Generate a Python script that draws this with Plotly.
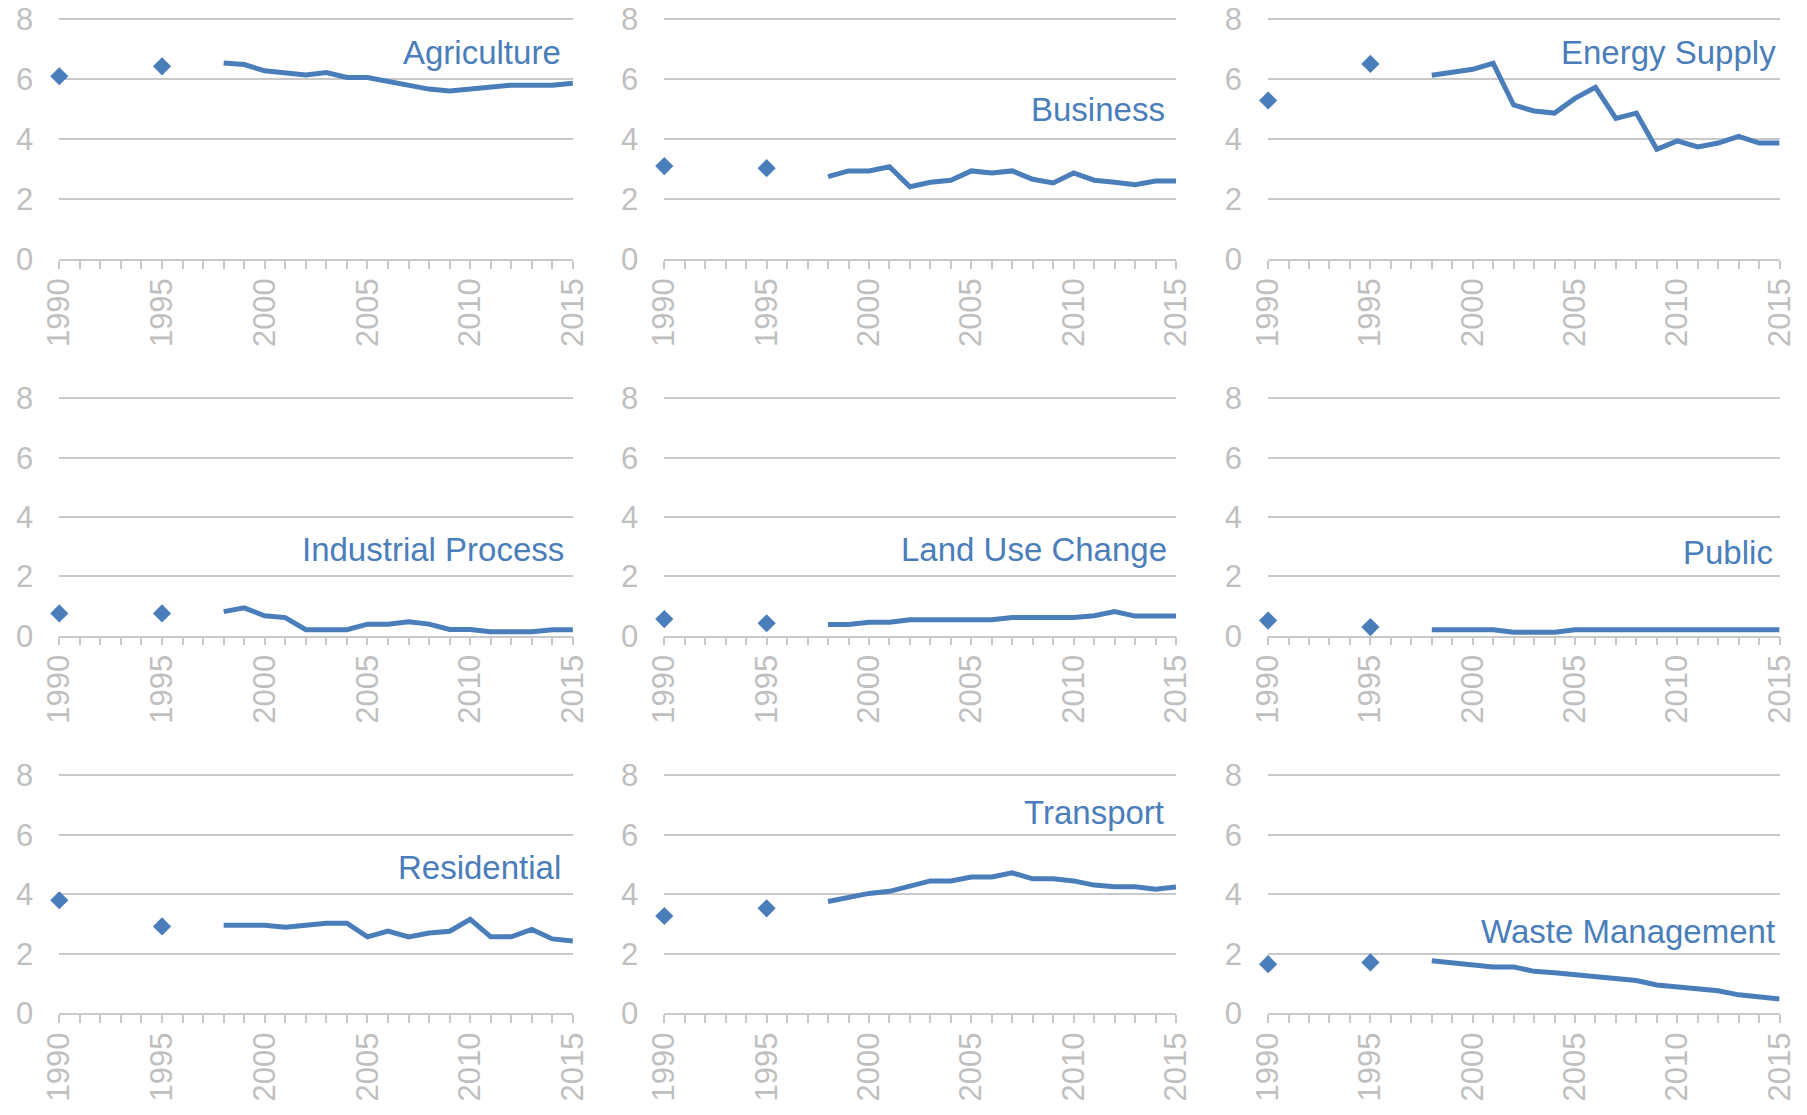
import plotly.graph_objects as go

# ---------------- data ----------------
bench_years = [1990, 1995]
annual_years = list(range(1998, 2016))

sector_names = ["Agriculture", "Business", "Energy Supply",
                "Industrial Process", "Land Use Change", "Public",
                "Residential", "Transport", "Waste Management"]

agriculture_bench = [6.10, 6.43]
agriculture_annual = [6.54, 6.49, 6.28, 6.22, 6.14, 6.22, 6.06, 6.06, 5.94,
                      5.81, 5.67, 5.61, 5.68, 5.74, 5.80, 5.80, 5.80, 5.87]

business_bench = [3.10, 3.03]
business_annual = [2.75, 2.94, 2.94, 3.08, 2.41, 2.56, 2.63, 2.94, 2.87,
                   2.94, 2.66, 2.54, 2.87, 2.63, 2.56, 2.48, 2.60, 2.60]

energy_bench = [5.29, 6.51]
energy_annual = [6.13, 6.21, 6.33, 6.53, 5.14, 4.94, 4.87, 5.36, 5.73,
                 4.69, 4.87, 3.66, 3.94, 3.74, 3.87, 4.09, 3.87, 3.87]

industrial_bench = [0.75, 0.75]
industrial_annual = [0.81, 0.94, 0.67, 0.61, 0.20, 0.20, 0.20, 0.39, 0.39,
                     0.47, 0.39, 0.21, 0.21, 0.13, 0.13, 0.13, 0.20, 0.20]

landuse_bench = [0.56, 0.42]
landuse_annual = [0.38, 0.38, 0.45, 0.45, 0.54, 0.54, 0.54, 0.54, 0.54,
                  0.61, 0.61, 0.61, 0.61, 0.67, 0.81, 0.66, 0.66, 0.66]

public_bench = [0.51, 0.29]
public_annual = [0.20, 0.20, 0.20, 0.20, 0.12, 0.12, 0.12, 0.20, 0.20,
                 0.20, 0.20, 0.20, 0.20, 0.20, 0.20, 0.20, 0.20, 0.20]

residential_bench = [3.80, 2.92]
residential_annual = [2.96, 2.96, 2.96, 2.89, 2.96, 3.03, 3.03, 2.57, 2.76,
                      2.57, 2.70, 2.76, 3.16, 2.57, 2.57, 2.82, 2.50, 2.43]

transport_bench = [3.27, 3.53]
transport_annual = [3.76, 3.90, 4.03, 4.10, 4.26, 4.45, 4.45, 4.58, 4.58,
                    4.72, 4.52, 4.52, 4.45, 4.31, 4.25, 4.25, 4.17, 4.25]

waste_bench = [1.65, 1.71]
waste_annual = [1.77, 1.70, 1.64, 1.56, 1.56, 1.41, 1.36, 1.29, 1.22,
                1.15, 1.10, 0.95, 0.89, 0.82, 0.76, 0.62, 0.55, 0.48]

y_ticks = [0, 2, 4, 6, 8]
x_tick_labels = [1990, 1995, 2000, 2005, 2010, 2015]

# label placement (value on y axis, fraction of x domain for right edge)
label_y = [6.9, 4.98, 6.9, 2.9, 2.9, 2.8, 4.89, 6.76, 2.74]
label_x = [0.981, 0.983, 0.996, 0.987, 0.987, 0.991, 0.98, 0.981, 0.995]

bench_all = [agriculture_bench, business_bench, energy_bench,
             industrial_bench, landuse_bench, public_bench,
             residential_bench, transport_bench, waste_bench]
annual_all = [agriculture_annual, business_annual, energy_annual,
              industrial_annual, landuse_annual, public_annual,
              residential_annual, transport_annual, waste_annual]

# ---------------- styling ----------------
W, H = 1807, 1115
BLUE = "#4A7EBB"
GRID = "#C9C9C9"
TICKC = "#BFBFBF"
FONT = "Liberation Sans, Arial, sans-serif"
YMAX = 8.06  # slightly above 8 so the top gridline is drawn

# pixel positions in the screenshot (x of 1990 / 2015, y of 8 / 0)
col_px = [(59.3, 572.9), (664.3, 1176.0), (1268.1, 1779.6)]
row_px = [(19.3, 259.0), (398.3, 635.7), (775.3, 1013.3)]

fig = go.Figure()
layout = dict(
    width=W, height=H,
    margin=dict(l=0, r=0, t=0, b=0, autoexpand=False),
    paper_bgcolor="white", plot_bgcolor="white",
    showlegend=False,
    font=dict(family=FONT, color=TICKC, size=30),
)
annotations = []

for i, name in enumerate(sector_names):
    r, c = divmod(i, 3)
    n = i + 1
    sfx = "" if n == 1 else str(n)
    xa, ya = "x" + sfx, "y" + sfx
    x0, x1 = col_px[c]
    y8, y0 = row_px[r]
    ytop = y0 - (y0 - y8) * YMAX / 8.0

    fig.add_trace(go.Scatter(
        x=annual_years, y=annual_all[i], mode="lines",
        line=dict(color=BLUE, width=5), xaxis=xa, yaxis=ya,
        cliponaxis=False, hoverinfo="skip"))
    fig.add_trace(go.Scatter(
        x=bench_years, y=bench_all[i], mode="markers",
        marker=dict(symbol="diamond", size=14, color=BLUE),
        xaxis=xa, yaxis=ya, cliponaxis=False, hoverinfo="skip"))

    layout["xaxis" + sfx] = dict(
        domain=[x0 / W, x1 / W], anchor=ya, range=[1990, 2015],
        automargin=False, ticklabeloverflow="allow",
        tickmode="array", tickvals=x_tick_labels,
        ticktext=[str(v) for v in x_tick_labels],
        tickangle=-90, ticks="outside", ticklen=8, tickwidth=1.5,
        tickcolor=GRID,
        minor=dict(dtick=1, tick0=1990, ticks="outside", ticklen=8,
                   tickwidth=1.5, tickcolor=GRID, showgrid=False),
        showline=True, linecolor=GRID, linewidth=1.5,
        showgrid=False, zeroline=False, ticklabelstandoff=-3,
        tickfont=dict(family=FONT, color=TICKC, size=31),
        fixedrange=True,
    )
    layout["yaxis" + sfx] = dict(
        domain=[1 - y0 / H, 1 - ytop / H], anchor=xa, range=[0, YMAX],
        automargin=False, ticklabeloverflow="allow",
        tickmode="array", tickvals=y_ticks,
        ticks="", showline=False, showgrid=True, gridcolor=GRID,
        gridwidth=1.5, zeroline=False, ticklabelstandoff=25,
        tickfont=dict(family=FONT, color=TICKC, size=31),
        fixedrange=True,
    )
    annotations.append(dict(
        text=name, xref=xa + " domain", yref=ya,
        x=label_x[i], y=label_y[i], xanchor="right", yanchor="middle",
        showarrow=False, font=dict(family=FONT, color=BLUE, size=33)))

layout["annotations"] = annotations
fig.update_layout(**layout)
fig.write_html(
    "out.html",
    config={"displayModeBar": False},
    post_script="document.body.style.margin='0';"
                "document.body.style.overflow='hidden';",
)
